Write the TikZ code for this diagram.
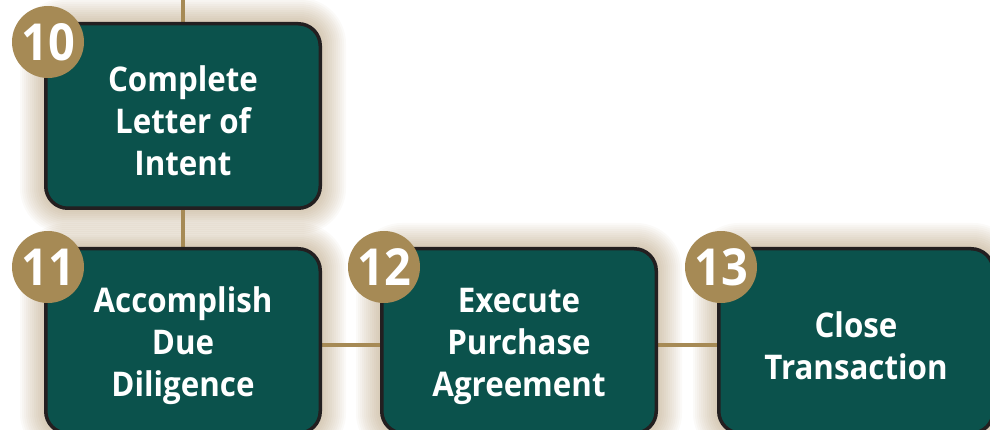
\documentclass[tikz,border=0pt]{standalone}
\usepackage{fontspec}
\setmainfont{Open Sans}[FakeStretch=0.92]
\usetikzlibrary{calc}
\definecolor{boxfill}{HTML}{0B524C}
\definecolor{boxedge}{HTML}{231F20}
\definecolor{gold}{HTML}{A68A55}
\definecolor{glowc}{HTML}{9C7C4C}
\pgfdeclarelayer{glow}
\pgfdeclarelayer{lines}
\pgfsetlayers{glow,lines,main}
\newcommand\myglow[1]{%
  \foreach \i in {2,4,...,24}{%
    \fill[glowc, opacity=0.04, rounded corners={(22+\i)*1pt}]
      ($(#1.north west)+(-\i,\i)$) rectangle ($(#1.south east)+(\i,-\i)$);}}
\begin{document}
\begin{tikzpicture}[x=1pt,y=1pt,
  stepbox/.style={draw=boxedge, line width=3.5pt, fill=boxfill, rounded corners=22pt,
    minimum width=274.5pt, minimum height=184.5pt, text=white, align=center, inner sep=0pt,
    font=\fontsize{34}{42}\selectfont\bfseries},
  badge/.style={circle, fill=gold, minimum size=72pt, inner sep=0pt, text=white,
    font=\fontsize{51}{51}\selectfont\bfseries},
  link/.style={draw=gold, line width=4.5pt}]
\useasboundingbox (0,0) rectangle (990,430);
\node[stepbox] (b10) at (183,314) {\\[-6pt]Complete\\Letter of\\Intent};
\node[stepbox] (b11) at (183,89) {\\[-6pt]Accomplish\\Due\\Diligence};
\node[stepbox] (b12) at (519,89) {\\[-6pt]Execute\\Purchase\\Agreement};
\node[stepbox] (b13) at (856,89) {\\[-6pt]Close\\Transaction};
\node[badge] (n10) at ($(b10.north west)+(4,-20)$) {10};
\node[badge] (n11) at ($(b11.north west)+(4,-20)$) {11};
\node[badge] (n12) at ($(b12.north west)+(4,-20)$) {12};
\node[badge] (n13) at ($(b13.north west)+(4,-20)$) {13};
\coordinate (top) at (183,432);
\begin{pgfonlayer}{glow}
  \myglow{b10}\myglow{b11}\myglow{b12}\myglow{b13}
\end{pgfonlayer}
\begin{pgfonlayer}{lines}
  \draw[link] (top) -- (b10.north);
  \draw[link] (b10.south) -- (b11.north);
  \draw[link] ([yshift=-4pt]b11.east) -- ([yshift=-4pt]b12.west);
  \draw[link] ([yshift=-4pt]b12.east) -- ([yshift=-4pt]b13.west);
\end{pgfonlayer}
\end{tikzpicture}
\end{document}
